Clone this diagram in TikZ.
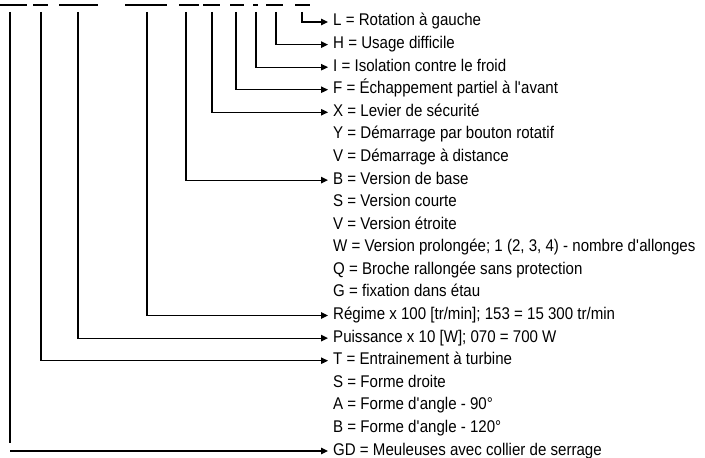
\documentclass[tikz,border=0pt]{standalone}
\usepackage{fontspec}
\setmainfont{Liberation Sans}[FakeStretch=0.89]
\usetikzlibrary{positioning,arrows.meta}

\begin{document}
\begin{tikzpicture}[x=1bp,y=-1bp,
        lbl/.style={anchor=west,inner xsep=5bp,inner ysep=0pt,text height=11bp,text depth=3bp,font=\fontsize{17}{19}\selectfont},
        code/.style={line width=2.2bp},
        lead/.style={line width=1.1bp},
        tip/.style={lead,-{Triangle[length=7bp,width=6.5bp]}}]
        \useasboundingbox (0,0) rectangle (705,458);

        % code segments
        \foreach \a/\b in {0/27,33/48,59/98,125/167,179/199,203/220,230/244,253/258,266/283,295/310}
            \draw[code] (\a,5) -- (\b,5);

        % start points of the leads
        \foreach \n/\x in {gd/10,t/41,p/78,r/147,b/186,x/212,f/236,i/256,h/276,l/302}
            \coordinate (c\n) at (\x,12);

        % meanings
        \node[lbl] (rL)  at (328,22)  {L = Rotation à gauche};
        \node[lbl] (rH)  at (328,44.6) {H = Usage difficile};
        \node[lbl] (rI)  at (328,67.2) {I = Isolation contre le froid};
        \node[lbl] (rF)  at (328,89.7) {F = Échappement partiel à l\textquotesingle avant};
        \node[lbl] (rX)  at (328,112.3) {X = Levier de sécurité};
        \node[lbl] (rY)  at (328,134.9) {Y = Démarrage par bouton rotatif};
        \node[lbl] (rV)  at (328,157.5) {V = Démarrage à distance};
        \node[lbl] (rB)  at (328,180.1) {B = Version de base};
        \node[lbl] (rS)  at (328,202.6) {S = Version courte};
        \node[lbl] (rVe) at (328,225.2) {V = Version étroite};
        \node[lbl] (rW)  at (328,247.8) {W = Version prolongée; 1 (2, 3, 4) - nombre d\textquotesingle allonges};
        \node[lbl] (rQ)  at (328,270.4) {Q = Broche rallongée sans protection};
        \node[lbl] (rG)  at (328,293)  {G = fixation dans étau};
        \node[lbl] (rR)  at (328,315.5) {Régime x 100 [tr/min]; 153 = 15 300 tr/min};
        \node[lbl] (rP)  at (328,338.1) {Puissance x 10 [W]; 070 = 700 W};
        \node[lbl] (rT)  at (328,360.7) {T = Entrainement à turbine};
        \node[lbl] (rSd) at (328,383.3) {S = Forme droite};
        \node[lbl] (rA)  at (328,405.9) {A = Forme d\textquotesingle angle - 90°};
        \node[lbl] (rBa) at (328,428.4) {B = Forme d\textquotesingle angle - 120°};
        \node[lbl] (rGD) at (328,451)  {GD = Meuleuses avec collier de serrage};

        % leads
        \draw[tip] (cl) |- (rL.west);
        \draw[tip] (ch) |- (rH.west);
        \draw[tip] (ci) |- (rI.west);
        \draw[tip] (cf) |- (rF.west);
        \draw[tip] (cx) |- (rX.west);
        \draw[tip] (cb) |- (rB.west);
        \draw[tip] (cr) |- (rR.west);
        \draw[tip] (cp) |- (rP.west);
        \draw[tip] (ct) |- (rT.west);
        \draw[lead] (cgd) -- ++(0,431);
        \draw[tip] (cgd |- rGD.west) -- (rGD.west);
\end{tikzpicture}
\end{document}
